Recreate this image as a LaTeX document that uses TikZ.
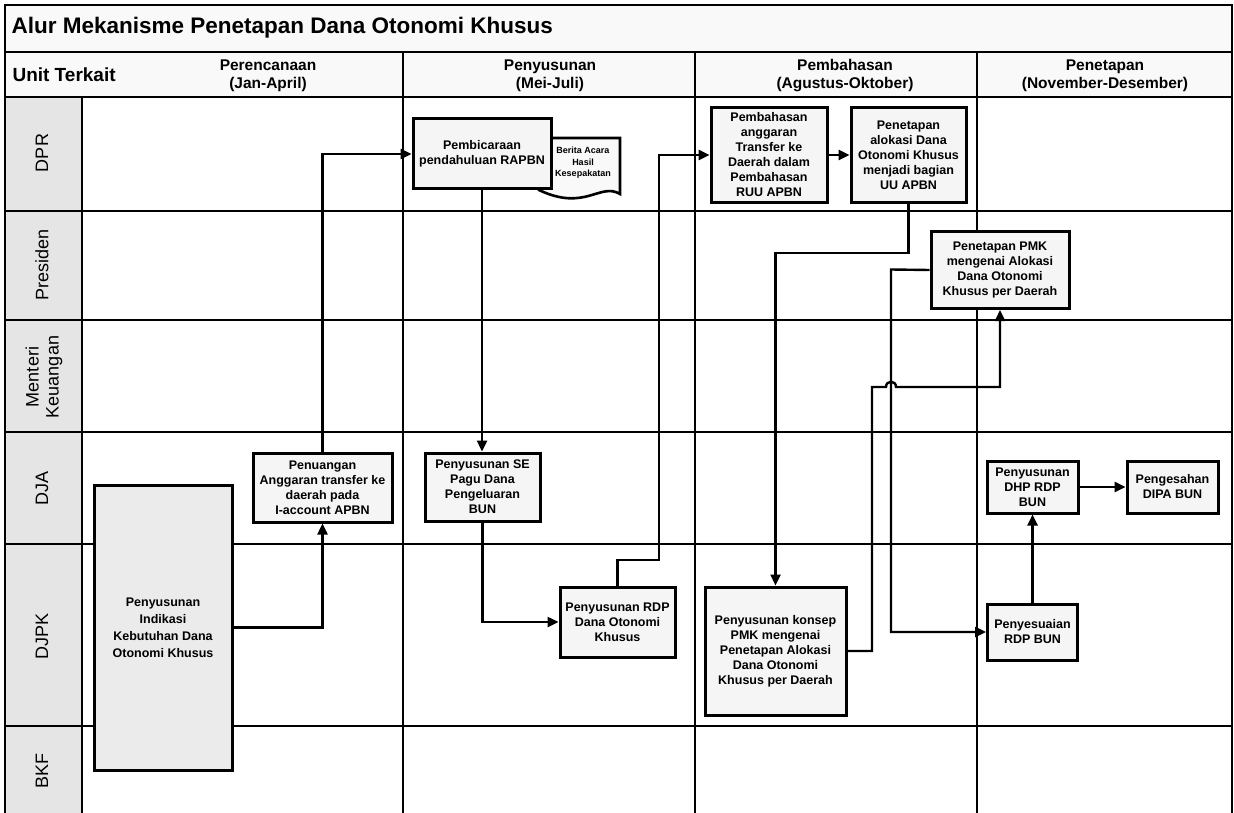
\documentclass[tikz,border=0pt]{standalone}
\usepackage{fontspec}
\setmainfont{Liberation Sans}
\usetikzlibrary{arrows.meta, calc}
\tikzset{
	lane/.style={line width=1.8pt},
	proc/.style={draw, line width=3pt, fill=gray!8, align=center, inner sep=1pt, font=\bfseries\fontsize{12.5}{15}\selectfont},
	arrow/.style={line width=2.4pt, -{Triangle[length=11pt, width=10pt]}},
	phase/.style={font=\bfseries\fontsize{15.5}{18}\selectfont, align=center},
	unit/.style={rotate=90, font=\fontsize{18}{20}\selectfont, align=center},
}

\begin{document}
\begin{tikzpicture}[x=1pt, y=-1pt]
		\useasboundingbox (0,0) rectangle (1234,813);
		% Header and swimlanes
		\fill[gray!5] (5,5) rectangle (1232,97);
		\fill[gray!20] (5,97) rectangle (82,813);
		\draw[lane] (5,813) -- (5,5) -- (1232,5) -- (1232,813);
		\draw[lane] (5,52) -- (1232,52);
		\draw[lane] (5,97) -- (1232,97);
		\foreach \y in {211,320,432,544,726}
			\draw[lane] (5,\y) -- (1232,\y);
		\foreach \x in {403,695,977}
			\draw[lane] (\x,52) -- (\x,813);
		\draw[lane] (82,97) -- (82,813);

		\node[anchor=west, font=\bfseries\fontsize{22.5}{25}\selectfont] (title) at (8,28) {Alur Mekanisme Penetapan Dana Otonomi Khusus};
		\node[anchor=west, font=\bfseries\fontsize{19}{22}\selectfont] (unit) at (9,75) {Unit Terkait};
		\node[phase] (plan) at (268,76) {Perencanaan\\(Jan-April)};
		\node[phase] (draft) at (550,76) {Penyusunan\\(Mei-Juli)};
		\node[phase] (debate) at (845,76) {Pembahasan\\(Agustus-Oktober)};
		\node[phase] (decide) at (1105,76) {Penetapan\\(November-Desember)};

		\node[unit] (dpr) at (42,153) {DPR};
		\node[unit] (presiden) at (42,265) {Presiden};
		\node[unit] (menkeu) at (44,377) {Menteri\\Keuangan};
		\node[unit] (dja) at (42,488) {DJA};
		\node[unit] (djpk) at (42,636) {DJPK};
		\node[unit] (bkf) at (42,771) {BKF};

		% Document behind the first DPR step
		\draw[line width=2.6pt, fill=gray!5] (539,138) -- (620,138) -- (620,194) .. controls (600,182) and (585,212) .. (539,190) -- cycle;
		\node[font=\bfseries\fontsize{9}{11.5}\selectfont, align=center] (berita) at (583,163) {Berita Acara\\Hasil\\Kesepakatan};

		% Process steps
		\node[proc, minimum width=138, minimum height=70] (pembicaraan) at (482,154) {Pembicaraan\\pendahuluan RAPBN};
		\node[proc, minimum width=116, minimum height=95] (bahas) at (769,155) {Pembahasan\\anggaran\\Transfer ke\\Daerah dalam\\Pembahasan\\RUU APBN};
		\node[proc, minimum width=115, minimum height=95] (alokasi) at (908.5,155) {Penetapan\\alokasi Dana\\Otonomi Khusus\\menjadi bagian\\UU APBN};
		\node[proc, minimum width=138, minimum height=77] (pmk) at (1000,270) {Penetapan PMK\\mengenai Alokasi\\Dana Otonomi\\Khusus per Daerah};
		\node[proc, minimum width=139, minimum height=69] (penuangan) at (322.5,487.5) {Penuangan\\Anggaran transfer ke\\daerah pada\\I-account APBN};
		\node[proc, minimum width=115, minimum height=68] (sepagu) at (482.5,487) {Penyusunan SE\\Pagu Dana\\Pengeluaran\\BUN};
		\node[proc, fill=gray!16, minimum width=138, minimum height=285, font=\bfseries\fontsize{12.5}{17}\selectfont] (indikasi) at (163,627.5) {Penyusunan\\Indikasi\\Kebutuhan Dana\\Otonomi Khusus};
		\node[proc, minimum width=115, minimum height=70] (rdp) at (617.5,622) {Penyusunan RDP\\Dana Otonomi\\Khusus};
		\node[proc, minimum width=141, minimum height=128] (konsep) at (775.5,651) {Penyusunan konsep\\PMK mengenai\\Penetapan Alokasi\\Dana Otonomi\\Khusus per Daerah};
		\node[proc, minimum width=91, minimum height=52] (dhp) at (1032.5,487) {Penyusunan\\DHP RDP\\BUN};
		\node[proc, minimum width=91, minimum height=52] (pengesahan) at (1172.5,487) {Pengesahan\\DIPA BUN};
		\node[proc, minimum width=90, minimum height=56] (penyesuaian) at (1032.5,632) {Penyesuaian\\RDP BUN};

		% Turning points
		\coordinate (rdpup) at (659,560);
		\coordinate (alokasidown) at (908.5,253);
		\coordinate (konsepturn) at (872,387);
		\coordinate (hop) at (891,387);
		\coordinate (pmkturn) at (891,269.5);

		% Flow
		\draw[arrow] (indikasi.east) -| (penuangan.south);
		\draw[arrow] (penuangan.north) |- (pembicaraan.west);
		\draw[arrow] (pembicaraan.south) -- (pembicaraan.south |- sepagu.north);
		\draw[arrow] (sepagu.south) |- (rdp.west);
		\draw[arrow] (rdp.north) |- (rdpup) |- (bahas.west);
		\draw[arrow] (bahas.east) -- (alokasi.west);
		\draw[arrow] (alokasi.south) -- (alokasidown) -| (konsep.north);
		\draw[arrow] (konsep.east) -| (konsepturn) -- ([xshift=-5pt]hop) .. controls +(0,-7) and +(0,-7) .. ([xshift=5pt]hop) -| (pmk.south);
		\draw[arrow] (pmk.west) -- (pmkturn) |- (penyesuaian.west);
		\draw[arrow] (penyesuaian.north) -- (dhp.south);
		\draw[arrow] (dhp.east) -- (pengesahan.west);
	\end{tikzpicture}
\end{document}
